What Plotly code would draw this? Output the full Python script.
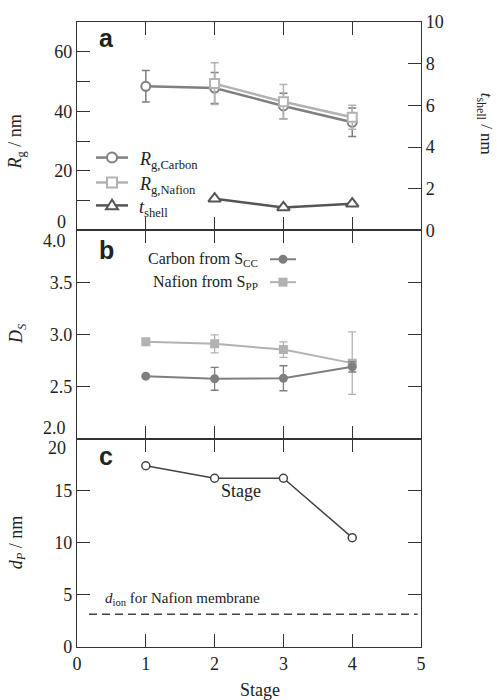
import plotly.graph_objects as go
from plotly.subplots import make_subplots

# ---------------- data ----------------
stages = [1, 2, 3, 4]
rg_carbon = [48.4, 47.8, 41.8, 36.3]
rg_carbon_err = [5.3, 5.2, 4.3, 4.8]
stages_nafion = [2, 3, 4]
rg_nafion = [49.3, 43.2, 38.0]
rg_nafion_err = [7.0, 5.8, 4.0]
t_shell = [1.52, 1.10, 1.28]

ds_carbon = [2.60, 2.575, 2.58, 2.69]
ds_carbon_err = [0, 0.11, 0.12, 0.05]
ds_nafion = [2.93, 2.91, 2.855, 2.725]
ds_nafion_err = [0, 0.087, 0.075, 0.30]

dp = [17.4, 16.2, 16.2, 10.5]
d_ion = 3.15

rg_ticks = [20, 40, 60]
rg_minor_ticks = [10, 30, 50]
rg_edge = [0]
shell_ticks = [0, 2, 4, 6, 8, 10]
ds_ticks = [2.5, 3.0, 3.5]
ds_edge = [2.0, 4.0]
dp_ticks = [0, 5, 10, 15]
dp_edge = [20]
x_ticks = [0, 1, 2, 3, 4, 5]

legend_a = ["<i>R</i><sub>g,Carbon</sub>", "<i>R</i><sub>g,Nafion</sub>", "<i>t</i><sub>shell</sub>"]
legend_b = ["Carbon from S<sub>CC</sub>", "Nafion from S<sub>PP</sub>"]

# ---------------- style ----------------
SERIF = "Liberation Serif, Times New Roman, Times, serif"
SANS = "Liberation Sans, Arial, Helvetica, sans-serif"
AX = "#333333"
TXT = "#222222"
C_CARBON = "#7f7f7f"
C_NAFION = "#b2b2b2"
C_SHELL = "#555555"
C_DP = "#444444"

W, H = 497, 700
L, R, T, B = 77, 54, 20, 53
PW, PH = W - L - R, H - T - B


def px2paper(px, py):
    return (px - L) / PW, (H - B - py) / PH


fig = make_subplots(rows=3, cols=1, vertical_spacing=0,
                    specs=[[{"secondary_y": True}], [{}], [{}]])

# panel a
fig.add_trace(go.Scatter(
    x=stages, y=rg_carbon, name=legend_a[0], mode="lines+markers",
    line=dict(color=C_CARBON, width=2.5),
    marker=dict(symbol="circle", size=9, color="white", line=dict(color=C_CARBON, width=2)),
    error_y=dict(type="data", array=rg_carbon_err, color=C_CARBON, thickness=1.5, width=4)),
    row=1, col=1)
fig.add_trace(go.Scatter(
    x=stages_nafion, y=rg_nafion, name=legend_a[1], mode="lines+markers",
    line=dict(color=C_NAFION, width=2.5),
    marker=dict(symbol="square", size=9, color="white", line=dict(color=C_NAFION, width=2)),
    error_y=dict(type="data", array=rg_nafion_err, color=C_NAFION, thickness=1.5, width=4)),
    row=1, col=1)
fig.add_trace(go.Scatter(
    x=stages_nafion, y=t_shell, name=legend_a[2], mode="lines+markers",
    line=dict(color=C_SHELL, width=2.5),
    marker=dict(symbol="triangle-up", size=11, color="white", line=dict(color=C_SHELL, width=2))),
    row=1, col=1, secondary_y=True)

# panel b
fig.add_trace(go.Scatter(
    x=stages, y=ds_nafion, name=legend_b[1], mode="lines+markers",
    line=dict(color=C_NAFION, width=2),
    marker=dict(symbol="square", size=9, color=C_NAFION),
    error_y=dict(type="data", array=ds_nafion_err, color=C_NAFION, thickness=1.3, width=4)),
    row=2, col=1)
fig.add_trace(go.Scatter(
    x=stages, y=ds_carbon, name=legend_b[0], mode="lines+markers",
    line=dict(color=C_CARBON, width=2),
    marker=dict(symbol="circle", size=9, color=C_CARBON),
    error_y=dict(type="data", array=ds_carbon_err, color=C_CARBON, thickness=1.3, width=4)),
    row=2, col=1)

# panel c
fig.add_trace(go.Scatter(
    x=stages, y=dp, name="d_P", mode="lines+markers",
    line=dict(color=C_DP, width=1.5),
    marker=dict(symbol="circle", size=8, color="white", line=dict(color=C_DP, width=1.5))),
    row=3, col=1)

axis_common = dict(showline=True, linecolor=AX, linewidth=1.2, ticks="inside",
                   ticklen=13, tickwidth=1.2, tickcolor=AX, showgrid=False,
                   zeroline=False, tickfont=dict(family=SERIF, size=18, color=TXT))
minor_common = dict(ticks="inside", ticklen=13, tickwidth=1.2, tickcolor=AX, showgrid=False)

# upper panels: x ticks without labels (minor ticks), bottom panel: labelled
for r in (1, 2):
    fig.update_xaxes(range=[0, 5], tickvals=[], mirror="ticks",
                     minor=dict(tickvals=x_ticks, **minor_common),
                     matches="x3", row=r, col=1, **axis_common)
fig.update_xaxes(range=[0, 5], tickvals=x_ticks, mirror="ticks", row=3, col=1, **axis_common)

fig.update_yaxes(range=[0, 70], tickvals=rg_ticks, mirror=False,
                 minor=dict(tickvals=rg_minor_ticks, **minor_common),
                 row=1, col=1, secondary_y=False, **axis_common)
fig.update_yaxes(range=[0, 10], tickvals=shell_ticks, mirror=False,
                 row=1, col=1, secondary_y=True, **axis_common)
fig.update_yaxes(range=[2, 4], tickvals=ds_ticks, tickformat=".1f", mirror="ticks",
                 row=2, col=1, **axis_common)
fig.update_yaxes(range=[0, 20], tickvals=dp_ticks, mirror="ticks",
                 row=3, col=1, **axis_common)

ann = []


def add_text(text, px, py, size=18, family=SERIF, angle=0, xanchor="center"):
    x, y = px2paper(px, py)
    ann.append(dict(text=text, x=x, y=y, xref="paper", yref="paper", showarrow=False,
                    xanchor=xanchor, yanchor="middle", textangle=angle,
                    font=dict(family=family, size=size, color=TXT)))


# edge tick labels nudged inward as in the reference
add_text(str(rg_edge[0]), 68, 221, xanchor="right")
add_text("%.1f" % ds_edge[1], 68, 240, xanchor="right")
add_text("%.1f" % ds_edge[0], 68, 427, xanchor="right")
add_text(str(dp_edge[0]), 68, 447, xanchor="right")

# axis titles
add_text("<i>R</i><sub>g</sub> / nm", 17, 141, angle=-90)
add_text("<i>t</i><sub>shell</sub> / nm", 485, 122, size=17, angle=90)
add_text("<i>D</i><sub><i>S</i></sub>", 17, 333, angle=-90)
add_text("<i>d</i><sub><i>P</i></sub> / nm", 17, 542, angle=-90)
add_text("Stage", 260, 690)

# panel labels
add_text("<b>a</b>", 106, 36, size=25, family=SANS)
add_text("<b>b</b>", 106, 249, size=25, family=SANS)
add_text("<b>c</b>", 106, 455, size=25, family=SANS)

# panel a legend text
for py, txt in zip([156, 181, 204], legend_a):
    add_text(txt, 137, py + 3, size=18, xanchor="left")

# panel b legend text
for py, txt in zip([258, 281], legend_b):
    add_text(txt, 260, py, size=16, xanchor="right")

# panel c annotations
ann.append(dict(text="Stage", x=2.39, y=15.0, xref="x3", yref="y4", showarrow=False,
                font=dict(family=SERIF, size=18, color=TXT)))
ann.append(dict(text="<i>d</i><sub>ion</sub> for Nafion membrane", x=0.38, y=d_ion + 1.45,
                xref="x3", yref="y4", showarrow=False, xanchor="left",
                font=dict(family=SERIF, size=15, color=TXT)))

shapes = []
# dashed d_ion line
shapes.append(dict(type="line", xref="x3 domain", yref="y4", x0=0.035, x1=0.99,
                   y0=d_ion, y1=d_ion, line=dict(color=C_DP, width=1.5, dash="8px,5px")))


def pline(px0, px1, py, col, w):
    x0, y = px2paper(px0, py)
    x1, _ = px2paper(px1, py)
    shapes.append(dict(type="line", xref="paper", yref="paper", x0=x0, x1=x1, y0=y, y1=y,
                       line=dict(color=col, width=w)))


def pmark(kind, pcx, pcy, r, col, filled):
    xc, yc = px2paper(pcx, pcy)
    dx, dy = r / PW, r / PH
    fill = col if filled else "white"
    lw = 0 if filled else 2
    if kind == "triangle":
        path = "M %f,%f L %f,%f L %f,%f Z" % (
            xc, yc + dy * 1.15, xc - dx * 1.2, yc - dy * 0.75, xc + dx * 1.2, yc - dy * 0.75)
        shapes.append(dict(type="path", xref="paper", yref="paper", path=path,
                           fillcolor=fill, line=dict(color=col, width=lw)))
    else:
        shapes.append(dict(type=kind, xref="paper", yref="paper", x0=xc - dx, x1=xc + dx,
                           y0=yc - dy, y1=yc + dy, fillcolor=fill, line=dict(color=col, width=lw)))


# panel a legend samples
for py, col, kind in [(156, C_CARBON, "circle"), (181, C_NAFION, "rect"), (204, C_SHELL, "triangle")]:
    pline(96, 128, py, col, 2.5)
    pmark(kind, 112, py, 5, col, False)

# panel b legend samples
for py, col, kind in [(258, C_CARBON, "circle"), (281, C_NAFION, "rect")]:
    pline(270, 296, py, col, 2)
    pmark(kind, 283, py, 4.5, col, True)

fig.update_layout(
    width=W, height=H,
    margin=dict(l=L, r=R, t=T, b=B),
    paper_bgcolor="white", plot_bgcolor="white",
    font=dict(family=SERIF, size=18, color=TXT),
    showlegend=False,
    annotations=ann, shapes=shapes,
)

fig.write_html("out.html")
